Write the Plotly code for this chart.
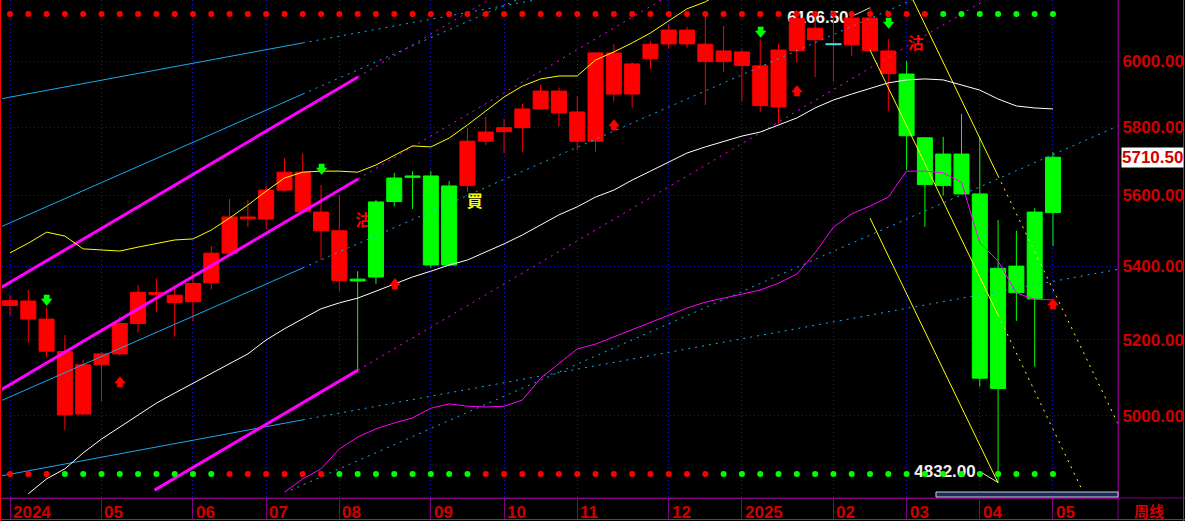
import math
import plotly.graph_objects as go

# ---------------- data (weekly bars: index 0 = week ending 2024-03-28 ... 57 = week ending 2025-05-02)
opens = [5292, 5304, 5255, 5168, 5005, 5133, 5162, 5243, 5327, 5320,
         5302, 5354, 5436, 5533, 5532, 5615, 5667, 5552, 5499, 5359,
         5370, 5582, 5652, 5656, 5403, 5628, 5758, 5786, 5798, 5854,
         5908, 5845, 5758, 6025, 5899, 6007, 6053, 6096, 6052, 5998,
         6028, 5985, 5860, 6032, 6102, 6052, 6050, 6134, 6031, 5960,
         5768, 5628, 5720, 5604, 5071, 5400, 5310, 5551]
highs = [5320, 5334, 5286, 5212, 5146, 5167, 5262, 5348, 5366, 5336,
         5384, 5456, 5590, 5587, 5627, 5708, 5722, 5630, 5601, 5386,
         5587, 5665, 5670, 5670, 5641, 5798, 5830, 5824, 5869, 5927,
         5918, 5893, 6027, 6053, 5996, 6062, 6112, 6106, 6138, 6109,
         6036, 6068, 6053, 6159, 6145, 6154, 6147, 6166.5, 6068, 6000,
         5770, 5771, 5839, 5771, 5529, 5499, 5563, 5726]
lows = [5264, 5192, 5152, 4964, 5003, 5037, 5157, 5219, 5275, 5208,
        5249, 5336, 5430, 5510, 5504, 5612, 5550, 5417, 5331, 5119,
        5351, 5568, 5561, 5395, 5400, 5610, 5747, 5723, 5727, 5852,
        5802, 5732, 5727, 5877, 5858, 5976, 6038, 6041, 5866, 5967,
        5876, 5845, 5810, 5995, 5950, 5937, 6016, 6030, 5848, 5673,
        5510, 5599, 5602, 5076, 4832, 5250, 5128, 5456]
closes = [5305, 5255, 5169, 5003, 5133, 5162, 5243, 5328, 5322, 5300,
          5352, 5436, 5538, 5538, 5615, 5667, 5553, 5499, 5360, 5364,
          5581, 5650, 5656, 5403, 5627, 5758, 5785, 5798, 5854, 5908,
          5842, 5758, 6025, 5899, 5991, 6052, 6096, 6053, 5998, 6031,
          5986, 5864, 6034, 6133, 6066, 6052, 6134, 6032, 5961, 5774,
          5631, 5720, 5604, 5098, 5394, 5327, 5552, 5710.5]
weeks = list(range(len(closes)))

candle_state = list("r" * 19 + "g" * 6 + "r" * 24 + "g" * 9)
top_dot_state = list("r" * 51 + "g" * 7)
bottom_dot_state = list("r" * 3 + "g" * 9 + "r" * 6 + "g" * 8 + "r" * 13 + "g" * 19)

month_idx = [0, 5, 10, 14, 18, 23, 27, 31, 36, 40, 45, 49, 53, 57]
month_txt = ["2024", "05", "06", "07", "08", "09", "10", "11", "12", "2025", "02", "03", "04", "05"]
price_ticks = [5000, 5200, 5400, 5600, 5800, 6000]

white_ma = [None, 4804, 4841, 4866, 4906, 4941, 4972, 5002, 5033, 5059,
            5085, 5109, 5136, 5162, 5199, 5229, 5256, 5283, 5299, 5312,
            5331, 5351, 5370, 5386, 5403, 5417, 5439, 5462, 5487, 5515,
            5544, 5567, 5595, 5615, 5644, 5670, 5697, 5723, 5741, 5758,
            5773, 5785, 5806, 5827, 5857, 5881, 5899, 5917, 5933, 5942,
            5945, 5942, 5927, 5911, 5884, 5863, 5857, 5854]
yellow_band = [5437, 5464, 5495, 5484, 5448, 5444, 5442, 5453, 5464, 5473,
               5476, 5501, 5535, 5572, 5612, 5650, 5667, 5670, 5670, 5667,
               5688, 5717, 5744, 5741, 5767, 5806, 5848, 5890, 5923, 5945,
               5954, 5954, 6003, 6028, 6056, 6087, 6125, 6163, 6185, 6220] + [None] * 18
magenta_line = [None] * 15 + [4808,
                4841, 4866, 4916, 4946, 4967, 4982, 4995, 5020, 5031, 5025,
                5023, 5025, 5041, 5098, 5136, 5175, 5188, 5207, 5226, 5247,
                5266, 5285, 5301, 5312, 5323, 5334, 5353, 5378, 5437, 5509,
                5547, 5569, 5595, 5670, 5670, 5665, 5638, 5465, 5414, 5326,
                5309, 5307]

# drawn trend lines: solid part (i0,p0)->(i1,p1), dotted extension (i1,p1)->(i2,p2)
channel_lines = [  # magenta
    (-0.546, 5339, 19.02, 5951, 27.0, 6220),
    (-0.546, 5066, 19.02, 5647, 36.0, 6205),
    (7.9, 4813, 19.02, 5119, 54.0, 6215),
]
cyan_lines = [
    (-0.546, 5884, 16.0, 6056, 30.0, 6205),
    (-0.546, 5509, 16.0, 5899, 28.0, 6199),
    (-0.546, 5038, 16.0, 5395, 50.0, 6209),
    (-0.546, 4848, 16.0, 4990, 60.55, 5391),
    (15.35, 4813, 15.35, 4813, 60.55, 5803),
]
yellow_lines = [
    (47, 6034, 54, 5266, 58.6, 4813),
    (47, 5535, 54, 4831, 54, 4831),
    (47, 6481, 54, 5656, 60.55, 4980),
]

down_arrow_idx = [2, 17, 41, 48]
down_arrow_price = [5304, 5673, 6087, 6115]
up_arrow_idx = [6, 21, 33, 43, 57]
up_arrow_price = [5085, 5348, 5803, 5905, 5293]
sell_idx = [19.3, 49.5]
sell_price = [5524, 6050]
buy_idx = [25.4]
buy_price = [5578]

# ---------------- styles
RED = "#ff0000"
GREEN = "#00ff00"
FLAT = "#40e0f0"
MAGENTA = "#ff00ff"
CYAN = "#1aa8f0"
YELLOW = "#ffff00"
AXRED = "#d00000"
PURPLE = "#800080"
GRID = "#1818a8"
NUMFONT = "Liberation Sans, Arial, sans-serif"
CJK = "Noto Sans CJK SC, sans-serif"

X_RANGE = [-0.437, 60.553]
Y_RANGE = [3.680668, 3.791758]
HALF = 0.41
DOT = "2px,5px"

fig = go.Figure()

# labels for extreme prices (drawn under the candles)
hi_i = max(weeks, key=lambda i: highs[i])
lo_i = min(weeks, key=lambda i: lows[i])
fig.add_trace(go.Scatter(
    x=[hi_i - 2.85, lo_i - 2.9], y=[6132, 4856], mode="text",
    text=[f"{highs[hi_i]:.2f}", f"{lows[lo_i]:.2f}"],
    textfont=dict(family=NUMFONT, size=17, color="#f0f0f0", weight="bold"),
    textposition="middle center", cliponaxis=False))
fig.add_trace(go.Scatter(
    x=[hi_i - 1.07, hi_i, None, lo_i - 0.88, lo_i],
    y=[6137, highs[hi_i], None, 4856, lows[lo_i]],
    mode="lines", line=dict(color="#e0e0e0", width=1)))

# signal characters (under candles)
fig.add_trace(go.Scatter(x=sell_idx, y=sell_price, mode="text", text=["沽"] * len(sell_idx),
                         textfont=dict(family=CJK, size=16, color=RED, weight="bold")))
fig.add_trace(go.Scatter(x=buy_idx, y=buy_price, mode="text", text=["買"] * len(buy_idx),
                         textfont=dict(family=CJK, size=16, color=YELLOW, weight="bold")))

# candles
for st, col in (("r", RED), ("g", GREEN)):
    sel = [i for i in weeks if candle_state[i] == st]
    wx, wy = [], []
    for i in sel:
        wx += [i, i, None]
        wy += [lows[i], highs[i], None]
    fig.add_trace(go.Scatter(x=wx, y=wy, mode="lines", line=dict(color=col, width=1)))
    bx, by = [], []
    for i in sel:
        o, c = opens[i], closes[i]
        if o == c:
            continue
        bx += [i - HALF, i + HALF, i + HALF, i - HALF, i - HALF, None]
        by += [o, o, c, c, o, None]
    fig.add_trace(go.Scatter(x=bx, y=by, mode="lines", fill="toself", fillcolor=col,
                             line=dict(color=col, width=1)))
fx, fy = [], []
for i in weeks:
    if opens[i] == closes[i]:
        fx += [i - HALF - 0.03, i + HALF + 0.03, None]
        fy += [opens[i], opens[i], None]
fig.add_trace(go.Scatter(x=fx, y=fy, mode="lines", line=dict(color=FLAT, width=2)))


def add_trend(lines, color, width):
    sx, sy, dx, dy = [], [], [], []
    for (i0, p0, i1, p1, i2, p2) in lines:
        if i1 != i0:
            sx += [i0, i1, None]
            sy += [p0, p1, None]
        if i2 != i1:
            dx += [i1, i2, None]
            dy += [p1, p2, None]
    fig.add_trace(go.Scatter(x=sx, y=sy, mode="lines", line=dict(color=color, width=width)))
    fig.add_trace(go.Scatter(x=dx, y=dy, mode="lines", line=dict(color=color, width=1, dash=DOT)))


add_trend(cyan_lines, CYAN, 1)
add_trend(channel_lines, MAGENTA, 3)
add_trend(yellow_lines, YELLOW, 1)

# indicator curves
fig.add_trace(go.Scatter(x=weeks, y=white_ma, mode="lines", line=dict(color="#ffffff", width=1)))
fig.add_trace(go.Scatter(x=weeks, y=yellow_band, mode="lines", line=dict(color=YELLOW, width=1)))
fig.add_trace(go.Scatter(x=weeks, y=magenta_line, mode="lines", line=dict(color=MAGENTA, width=1)))

# state dots (top / bottom rows)
fig.add_trace(go.Scatter(x=weeks, y=[0.972] * len(weeks), yaxis="y2", mode="markers",
                         marker=dict(size=6, color=[RED if s == "r" else GREEN for s in top_dot_state])))
fig.add_trace(go.Scatter(x=weeks, y=[0.048] * len(weeks), yaxis="y2", mode="markers",
                         marker=dict(size=6, color=[RED if s == "r" else GREEN for s in bottom_dot_state])))

# arrows
fig.add_trace(go.Scatter(x=down_arrow_idx, y=down_arrow_price, mode="text", text=["🡇"] * len(down_arrow_idx),
                         textfont=dict(family="DejaVu Sans", size=11, color=GREEN, weight="bold")))
fig.add_trace(go.Scatter(x=up_arrow_idx, y=up_arrow_price, mode="text", text=["🡅"] * len(up_arrow_idx),
                         textfont=dict(family="DejaVu Sans", size=11, color=RED, weight="bold")))

# ---------------- layout
L, T, W, H = 2, 0, 1116, 498


def px_x(p):
    return (p - L) / W


def px_y(p):
    return (H - p) / H


annotations = []
for i, t in zip(month_idx, month_txt):
    annotations.append(dict(x=i, xref="x", y=0, yref="paper", xanchor="left", yanchor="top",
                            xshift=1, yshift=-3, text=t, showarrow=False,
                            font=dict(family=NUMFONT, size=17, color=AXRED, weight="bold")))
annotations.append(dict(x=px_x(1149), xref="paper", y=px_y(510.5), yref="paper", xanchor="center",
                        yanchor="middle", text="周线", showarrow=False, borderpad=0,
                        font=dict(family=CJK, size=15, color=AXRED, weight="bold")))
annotations.append(dict(x=1, xref="paper", y=math.log10(closes[-1]), yref="y", xanchor="left",
                        yanchor="middle", xshift=3, text=f"{closes[-1]:.2f}", showarrow=False,
                        bgcolor="white", borderpad=0,
                        font=dict(family=NUMFONT, size=17, color=AXRED, weight="bold")))

shapes = [
    dict(type="line", xref="paper", yref="paper", x0=px_x(0), x1=px_x(1185), y0=0, y1=0,
         line=dict(color=PURPLE, width=1)),
    dict(type="line", xref="paper", yref="paper", x0=1, x1=1, y0=1, y1=px_y(519),
         line=dict(color=PURPLE, width=1)),
    dict(type="line", xref="paper", yref="paper", x0=px_x(0.5), x1=px_x(0.5), y0=1, y1=px_y(521),
         line=dict(color=RED, width=1)),
    dict(type="line", xref="paper", yref="paper", x0=px_x(0), x1=px_x(1185), y0=px_y(519.5), y1=px_y(519.5),
         line=dict(color=RED, width=1)),
    dict(type="line", xref="paper", yref="paper", x0=px_x(1183.5), x1=px_x(1183.5), y0=1, y1=px_y(521),
         line=dict(color=RED, width=1)),
    dict(type="rect", xref="paper", yref="paper", x0=px_x(936), x1=1, y0=px_y(497), y1=px_y(492),
         fillcolor="#1c2a5c", line=dict(color="#d0d0d0", width=1)),
]

fig.update_layout(
    width=1185, height=521,
    margin=dict(l=L, r=1185 - L - W, t=T, b=521 - H, autoexpand=False),
    paper_bgcolor="black", plot_bgcolor="black",
    showlegend=False, hovermode=False, dragmode=False,
    xaxis=dict(range=X_RANGE, tickvals=month_idx, showticklabels=False, automargin=False,
               ticks="outside", ticklen=21, tickcolor=PURPLE, tickwidth=1,
               showgrid=True, gridcolor=GRID, gridwidth=1, griddash="1px,3px",
               showline=True, linecolor=PURPLE, linewidth=1, zeroline=False, fixedrange=True),
    yaxis=dict(type="log", range=Y_RANGE, side="right", tickvals=price_ticks, automargin=False,
               ticktext=[f"{p:.2f}" for p in price_ticks], ticks="",
               tickfont=dict(family=NUMFONT, size=17, color=AXRED, weight="bold"),
               showgrid=True, gridcolor=GRID, gridwidth=1, griddash="1px,3px",
               showline=True, linecolor=PURPLE, linewidth=1, zeroline=False, fixedrange=True),
    yaxis2=dict(overlaying="y", range=[0, 1], visible=False, fixedrange=True),
    annotations=annotations,
    shapes=shapes,
)

fig.write_html("out.html", config={"displayModeBar": False, "staticPlot": True},
               post_script="document.body.style.margin='0';document.body.style.background='black';")
